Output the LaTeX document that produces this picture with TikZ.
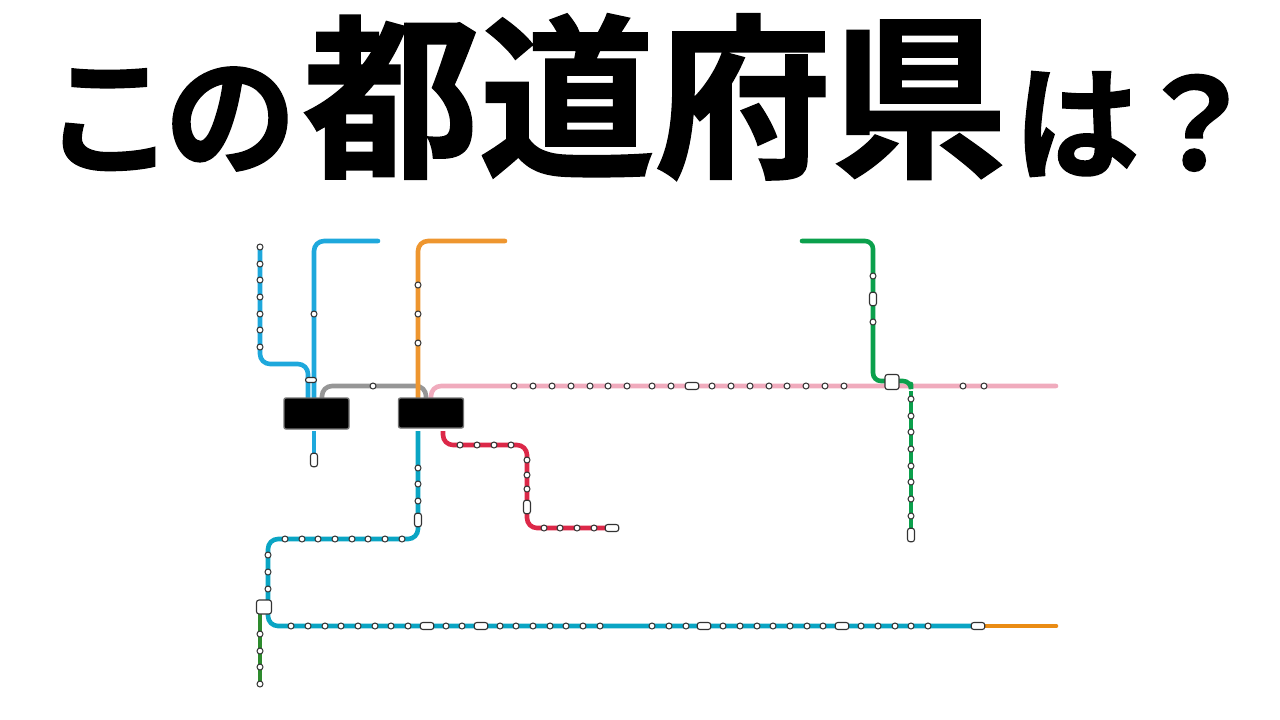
\documentclass[tikz,border=0pt]{standalone}
\usepackage{fontspec}
\usepackage{xcolor}
\newfontfamily\cjk[FakeBold=1.2]{Noto Sans CJK JP Bold}
\definecolor{lineblue}{HTML}{1EA8DC}
\definecolor{lineorange}{HTML}{EE962F}
\definecolor{linegray}{HTML}{969696}
\definecolor{linepink}{HTML}{F0ABBD}
\definecolor{linered}{HTML}{DC2848}
\definecolor{lineteal}{HTML}{0AA5C4}
\definecolor{linegreen}{HTML}{0BA04C}
\definecolor{linemoss}{HTML}{2E8B2E}
\definecolor{lineamber}{HTML}{EA8C14}
\tikzset{
  rail/.style={line width=4.6pt,rounded corners=10pt,line cap=round},
  halt/.style={circle,fill=white,draw=black!80,line width=1pt,inner sep=0pt,minimum size=6pt},
  pillv/.style={rectangle,rounded corners=2.5pt,fill=white,draw=black!80,line width=1.1pt,inner sep=0pt,minimum width=7pt,minimum height=13.5pt},
  pillh/.style={rectangle,rounded corners=2.5pt,fill=white,draw=black!80,line width=1.1pt,inner sep=0pt,minimum width=13.5pt,minimum height=7pt},
  hub/.style={rectangle,rounded corners=2.5pt,fill=white,draw=black!80,line width=1.1pt,inner sep=0pt,minimum width=15pt,minimum height=14pt},
  mask/.style={rectangle,rounded corners=2pt,fill=black,draw=black!55,line width=1.4pt,inner sep=0pt},
  title/.style={inner sep=0pt,font=\cjk}
}
\begin{document}
\begin{tikzpicture}[x=1pt,y=-1pt]
\useasboundingbox (0,0) rectangle (1280,720);
% title
\node[title,font=\cjk\fontsize{132}{132}\selectfont] (kono) at (170,119) {こ\kern-11pt の};
\node[title,font=\cjk\fontsize{176}{176}\selectfont] (todofuken) at (655,97) {都道府県};
\node[title,font=\cjk\fontsize{126}{126}\selectfont] (haq) at (1136,124) {は\kern-7pt ？};
% rails
\coordinate (b1) at (260,247); \coordinate (b1m) at (260,364); \coordinate (b1n) at (308,364); \coordinate (b1e) at (308,400);
\draw[rail,lineblue] (b1) -- (b1m) -- (b1n) -- (b1e);
\coordinate (b2) at (378,241); \coordinate (b2m) at (314,241); \coordinate (b2e) at (314,400);
\draw[rail,lineblue] (b2) -- (b2m) -- (b2e);
\coordinate (b3) at (314,431); \coordinate (b4) at (314,460);
\draw[rail,lineblue,line cap=butt] (b3) -- (b4);
\coordinate (o1) at (505,241); \coordinate (o1m) at (418,241); \coordinate (o1e) at (418,400);
\coordinate (y1) at (322,400); \coordinate (y2) at (322,386); \coordinate (y3) at (426,386); \coordinate (y4) at (426,400);
\draw[rail,linegray,line cap=butt] (y1) -- (y2) -- (y3) -- (y4);
\draw[rail,lineorange] (o1) -- (o1m) -- (o1e);
\coordinate (p1) at (431,400); \coordinate (p1m) at (431,386); \coordinate (p1e) at (1056,386);
\draw[rail,linepink] (p1) -- (p1m) -- (p1e);
\coordinate (r1) at (443,431); \coordinate (r1m) at (443,445); \coordinate (r2) at (527,445); \coordinate (r3) at (527,528); \coordinate (r4) at (612,528);
\draw[rail,linered,line cap=butt] (r1) -- (r1m) -- (r2) -- (r3) -- (r4);
\coordinate (t1) at (418,431); \coordinate (t2) at (418,539); \coordinate (t3) at (268,539); \coordinate (t4) at (268,626); \coordinate (t5) at (978,626);
\draw[rail,lineteal,line cap=butt] (t1) -- (t2) -- (t3) -- (t4) -- (t5);
\coordinate (a1) at (978,626); \coordinate (a2) at (1056,626);
\draw[rail,lineamber] (a1) -- (a2);
\coordinate (m1) at (260,607); \coordinate (m2) at (260,684);
\draw[rail,linemoss,line cap=butt] (m1) -- (m2);
\coordinate (g1) at (802,241); \coordinate (g2) at (873,241); \coordinate (g3) at (873,381); \coordinate (g4) at (911,381); \coordinate (g5) at (911,384);
\draw[rail,linegreen,rounded corners=8pt] (g1) -- (g2) -- (g3) -- (g4) -- (g5);
\coordinate (v1) at (911,391); \coordinate (v2) at (911,535);
\draw[rail,linegreen,line cap=butt] (v1) -- (v2);
% stations
\foreach \y in {247,264,280,297,314,330,347} \node[halt] (bn\y) at (260,\y) {};
\node[halt] (bm) at (314,314) {};
\node[pillh,minimum width=11pt,minimum height=5pt] (bp) at (311,380) {};
\node[pillv] (bq) at (314,460) {};
\foreach \y in {285,314,343} \node[halt] (on\y) at (418,\y) {};
\node[halt] (gr) at (373,386) {};
\foreach \x in {514,533,552,571,590,608,627,652,671,712,731,750,769,787,806,825,844,963,984}
  \node[halt] (pn\x) at (\x,386) {};
\node[pillh] (pp) at (692,386) {};
\foreach \x in {460,477,494,511} \node[halt] (ra\x) at (\x,445) {};
\foreach \y in {460,475,489} \node[halt] (rb\y) at (527,\y) {};
\node[pillv] (rp) at (527,507) {};
\foreach \x in {544,560,577,594} \node[halt] (rc\x) at (\x,528) {};
\node[pillh] (rq) at (612,528) {};
\foreach \y in {468,484,501} \node[halt] (ta\y) at (418,\y) {};
\node[pillv] (tp) at (418,520) {};
\foreach \x in {285,302,318,335,352,368,385,402} \node[halt] (tb\x) at (\x,539) {};
\foreach \y in {555,572,589} \node[halt] (tc\y) at (268,\y) {};
\foreach \x in {291,308,325,341,358,375,391,408,446,462,500,516,533,550,566,583,600,652,669,686,723,740,757,773,790,807,823,861,878,895,911,928}
  \node[halt] (td\x) at (\x,626) {};
\foreach \x in {427,481,704,842,978} \node[pillh] (tq\x) at (\x,626) {};
\node[hub] (junc) at (264,607) {};
\foreach \y in {634,651,667,684} \node[halt] (mo\y) at (260,\y) {};
\foreach \y in {276,322} \node[halt] (gn\y) at (873,\y) {};
\node[pillv] (gp) at (873,299) {};
\node[hub,minimum width=14pt,minimum height=15pt] (gh) at (892,382) {};
\foreach \y in {399,416,432,449,466,482,499,516} \node[halt] (vn\y) at (911,\y) {};
\node[pillv] (vp) at (911,535) {};
% hidden station names
\node[mask,minimum width=65pt,minimum height=31pt] (maska) at (316.5,413.5) {};
\node[mask,minimum width=65pt,minimum height=30pt] (maskb) at (431,413) {};
\end{tikzpicture}
\end{document}
